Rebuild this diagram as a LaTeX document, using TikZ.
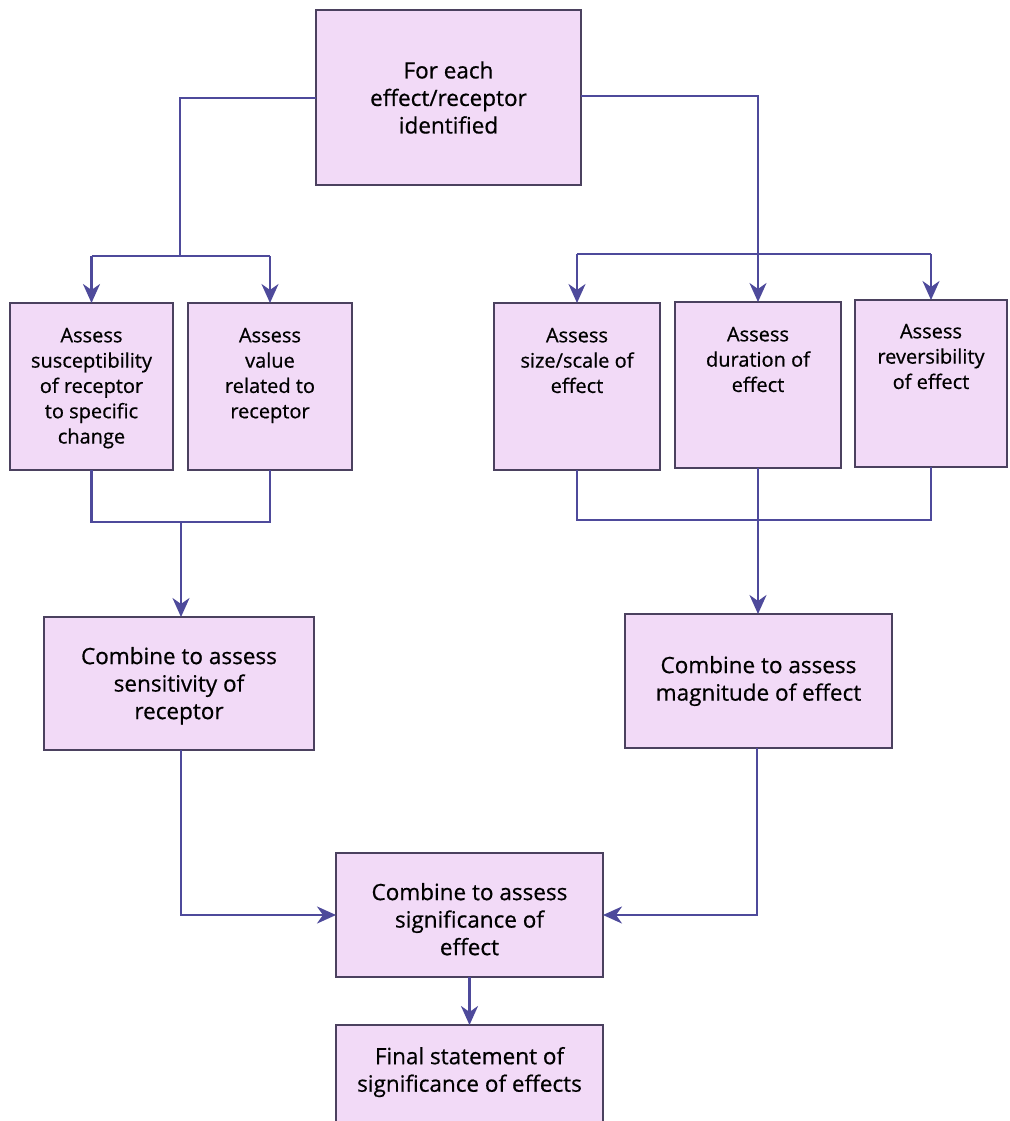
\documentclass[tikz,border=0pt]{standalone}
\usepackage{fontspec}
\setmainfont{Open Sans}[FakeBold=0.6]
\usetikzlibrary{arrows.meta}
\definecolor{boxfill}{RGB}{242,218,247}
\definecolor{boxline}{RGB}{75,65,95}
\definecolor{conn}{RGB}{78,74,155}
\tikzset{
  box/.style={draw=boxline, line width=1.8pt, fill=boxfill, inner sep=0pt, outer sep=0pt},
  conline/.style={draw=conn, line width=2.6pt},
  arr/.style={conline, -{Stealth[length=19pt,width=17pt,inset=6pt]}},
  bigtext/.style={font=\fontsize{22.5}{27.5}\selectfont},
  smalltext/.style={font=\fontsize{20}{25.3}\selectfont},
}
\begin{document}
\begin{tikzpicture}[x=1pt,y=-1pt]
\useasboundingbox (0,0) rectangle (1009,1121);
\fill[white] (0,0) rectangle (1009,1121);

% boxes
\node[box, bigtext, minimum width=265pt, minimum height=175pt, align=center] (top) at (448.5,97.5) {For each\\effect/receptor\\identified};

\node[box, smalltext, minimum width=163pt, minimum height=167pt] (a1) at (91.5,386.5)
  {\parbox[c][167pt][t]{160pt}{\centering\vspace{25pt}Assess\\susceptibility\\of receptor\\to specific\\change}};
\node[box, smalltext, minimum width=164pt, minimum height=167pt] (a2) at (270,386.5)
  {\parbox[c][167pt][t]{160pt}{\centering\vspace{25pt}Assess\\value\\related to\\receptor}};

\node[box, smalltext, minimum width=166pt, minimum height=167pt] (b1) at (577,386.5)
  {\parbox[c][167pt][t]{160pt}{\centering\vspace{25pt}Assess\\size/scale of\\effect}};
\node[box, smalltext, minimum width=166pt, minimum height=166pt] (b2) at (758,385)
  {\parbox[c][166pt][t]{160pt}{\centering\vspace{25pt}Assess\\duration of\\effect}};
\node[box, smalltext, minimum width=152pt, minimum height=167pt] (b3) at (931,383.5)
  {\parbox[c][167pt][t]{150pt}{\centering\vspace{24pt}Assess\\reversibility\\of effect}};

\node[box, bigtext, minimum width=270pt, minimum height=133pt] (c1) at (179,683.5)
  {\parbox[c][133pt][t]{264pt}{\centering\vspace{30pt}Combine to assess\\sensitivity of\\receptor}};
\node[box, bigtext, minimum width=267pt, minimum height=134pt] (c2) at (758.5,681)
  {\parbox[c][134pt][t]{260pt}{\centering\vspace{42pt}Combine to assess\\magnitude of effect}};

\node[box, bigtext, minimum width=267pt, minimum height=124pt] (d) at (469.5,915)
  {\parbox[c][124pt][t]{260pt}{\centering\vspace{30pt}Combine to assess\\significance of\\effect}};

\node[box, bigtext, minimum width=267pt, minimum height=130pt] (e) at (469.5,1090)
  {\parbox[c][130pt][t]{260pt}{\centering\vspace{22pt}Final statement of\\significance of effects}};

% coordinates
\coordinate (lsplit) at (180,256);
\coordinate (ljoin) at (181,522);
\coordinate (rjoin) at (757,520);

% top to left branch
\draw[conline] (top.west |- 0,98) -| (lsplit);
\draw[conline] (a1.north |- lsplit) -- (a2.north |- lsplit);
\draw[arr] (a1.north |- lsplit) -- (a1.north);
\draw[arr] (a2.north |- lsplit) -- (a2.north);

% top to right branch
\draw[arr] (top.east |- 0,96) -| (b2.north);
\draw[conline] (b1.north |- 0,254) -- (b3.north |- 0,254);
\draw[arr] (b1.north |- 0,254) -- (b1.north);
\draw[arr] (b3.north |- 0,254) -- (b3.north);

% left merge
\draw[conline] (a1.south) -- (a1.south |- ljoin) -- (a2.south |- ljoin) -- (a2.south);
\draw[arr] (ljoin) -- (ljoin |- c1.north);

% right merge
\draw[conline] (b1.south) -- (b1.south |- rjoin) -- (b3.south |- rjoin) -- (b3.south);
\draw[arr] (b2.south) -- (b2.south |- c2.north);

% to significance
\draw[arr] (c1.south -| ljoin) |- (d.west);
\draw[arr] (c2.south -| rjoin) |- (d.east);
\draw[arr] (d.south) -- (e.north);
\end{tikzpicture}
\end{document}
